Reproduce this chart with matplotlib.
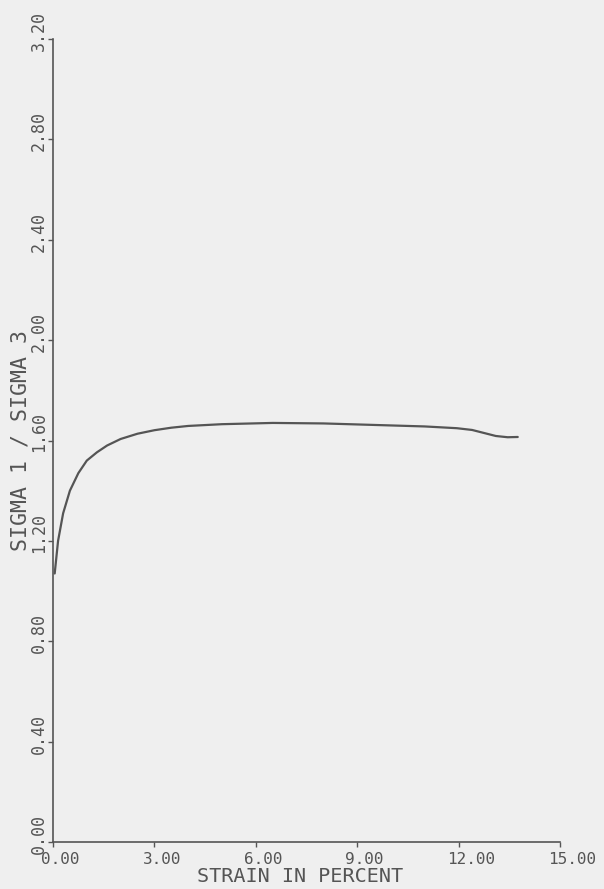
import matplotlib
matplotlib.use("Agg")
import matplotlib.pyplot as plt
from matplotlib.transforms import ScaledTranslation

strain = [0.05, 0.15, 0.30, 0.50, 0.75, 1.00, 1.30, 1.60, 2.00, 2.50, 3.00,
          3.50, 4.00, 5.00, 6.50, 8.00, 9.50, 11.00, 11.95, 12.40, 12.75,
          13.10, 13.45, 13.75]
ratio = [1.07, 1.20, 1.31, 1.40, 1.47, 1.52, 1.553, 1.580, 1.606, 1.627, 1.641,
         1.651, 1.658, 1.665, 1.670, 1.668, 1.662, 1.656, 1.649, 1.642, 1.630,
         1.618, 1.613, 1.614]

xticks = [0, 3, 6, 9, 12, 15]
xticklabels = ["0.00", "3.00", "6.00", "9.00", "12.00", "15.00"]
yticks = [0.0, 0.4, 0.8, 1.2, 1.6, 2.0, 2.4, 2.8, 3.2]
yticklabels = ["0.00", "0.40", "0.80", "1.20", "1.60", "2.00", "2.40", "2.80", "3.20"]

bg = "#efefef"
ink = "#555555"
font = "DejaVu Sans Mono"

fig = plt.figure(figsize=(6.04, 8.89), dpi=100, facecolor=bg)
ax = fig.add_axes([53/604, 1-842/889, (560-53)/604, (842-39)/889])
ax.set_facecolor(bg)

ax.plot(strain, ratio, color=ink, lw=1.6, solid_capstyle="round",
        solid_joinstyle="round")

ax.set_xlim(0, 15)
ax.set_ylim(0, 3.2)
for s in ["top", "right"]:
    ax.spines[s].set_visible(False)
for s in ["left", "bottom"]:
    ax.spines[s].set_color(ink)
    ax.spines[s].set_linewidth(1.2)

ax.set_xticks(xticks)
ax.set_xticklabels(xticklabels)
ax.set_yticks(yticks)
ax.set_yticklabels(yticklabels)
ax.tick_params(axis="both", direction="out", length=3.5, width=1.0, color=ink,
               labelcolor=ink, pad=6)
ax.tick_params(axis="x", labelsize=11.5)
ax.tick_params(axis="y", labelsize=12)

for lab in ax.get_xticklabels():
    lab.set_fontfamily(font)
    lab.set_ha("left")
    lab.set_transform(lab.get_transform() + ScaledTranslation(-12/100, 3/100, fig.dpi_scale_trans))

for lab in ax.get_yticklabels():
    lab.set_fontfamily(font)
    lab.set_rotation(90)
    lab.set_rotation_mode("anchor")
    lab.set_ha("left")
    lab.set_va("bottom")
    lab.set_transform(lab.get_transform() + ScaledTranslation(8/100, -12/100, fig.dpi_scale_trans))

ax.set_xlabel("STRAIN IN PERCENT", fontfamily=font, fontsize=14.5, color=ink)
ax.set_ylabel("SIGMA 1 / SIGMA 3", fontfamily=font, fontsize=15.5, color=ink)
ax.xaxis.set_label_coords(0.487, -0.031)
ax.yaxis.set_label_coords(-0.045, 0.5)

fig.savefig("out.png", dpi=100, facecolor=bg)
